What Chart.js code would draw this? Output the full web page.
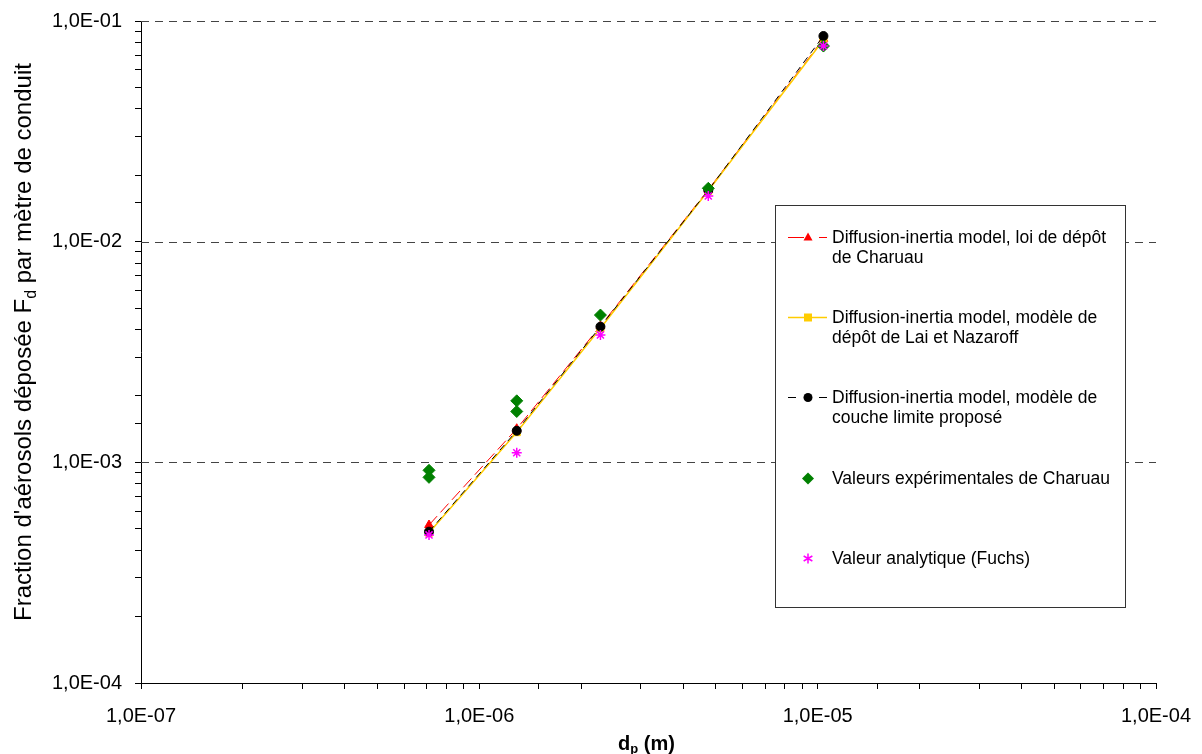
<!DOCTYPE html>
<html>
<head>
<meta charset="utf-8">
<script src="https://cdn.jsdelivr.net/npm/chart.js@4/dist/chart.umd.min.js"></script>
<style>
html,body{margin:0;padding:0;background:#fff;}
#wrap{position:relative;width:1202px;height:754px;}
</style>
</head>
<body>
<div id="wrap"><canvas id="c" width="1202" height="754"></canvas></div>
<script>
// ---- data ----
const dp = [7.1e-7, 1.29e-6, 2.28e-6, 4.75e-6, 1.04e-5];
const fdCharuauModel = [5.2e-4, 1.42e-3, 4.15e-3, 1.72e-2, 8.3e-2];
const fdLaiNazaroff = [4.8e-4, 1.37e-3, 4.05e-3, 1.70e-2, 8.2e-2];
const fdCoucheLimite = [4.85e-4, 1.39e-3, 4.12e-3, 1.71e-2, 8.55e-2];
const expDp = [7.1e-7, 7.1e-7, 1.29e-6, 1.29e-6, 2.28e-6, 4.75e-6, 1.04e-5];
const expFd = [9.2e-4, 8.55e-4, 1.90e-3, 1.70e-3, 4.65e-3, 1.745e-2, 7.7e-2];
const fuchsFd = [4.69e-4, 1.105e-3, 3.78e-3, 1.61e-2, 7.7e-2];
const yMajorTicks = [1e-4, 1e-3, 1e-2, 1e-1];
const xMajorTicks = [1e-7, 1e-6, 1e-5, 1e-4];
const seriesNames = [
  'Diffusion-inertia model, loi de dépôt de Charuau',
  'Diffusion-inertia model, modèle de dépôt de Lai et Nazaroff',
  'Diffusion-inertia model, modèle de couche limite proposé',
  'Valeurs expérimentales de Charuau',
  'Valeur analytique (Fuchs)'
];
const legendLines = [
  ['Diffusion-inertia model, loi de dépôt', 'de Charuau'],
  ['Diffusion-inertia model, modèle de', 'dépôt de Lai et Nazaroff'],
  ['Diffusion-inertia model, modèle de', 'couche limite proposé'],
  ['Valeurs expérimentales de Charuau'],
  ['Valeur analytique (Fuchs)']
];

const FONT = '"Liberation Sans", Arial, sans-serif';
const pts = (xs, ys) => xs.map((x, i) => ({x: x, y: ys[i]}));

function fmtExp(v) {
  const e = Math.log10(v);
  if (Math.abs(e - Math.round(e)) > 1e-6) return '';
  const n = Math.round(e);
  return '1,0E' + (n < 0 ? '-' : '+') + String(Math.abs(n)).padStart(2, '0');
}

const gridPlugin = {
  id: 'dashGrid',
  beforeDatasetsDraw(chart) {
    const {ctx, chartArea, scales} = chart;
    ctx.save();
    ctx.strokeStyle = '#444';
    ctx.lineWidth = 1;
    ctx.setLineDash([8, 6]);
    yMajorTicks.forEach(v => {
      if (v <= scales.y.min) return;
      const y = Math.round(scales.y.getPixelForValue(v)) + 0.5;
      ctx.beginPath();
      ctx.moveTo(chartArea.left, y);
      ctx.lineTo(chartArea.right, y);
      ctx.stroke();
    });
    ctx.restore();
  }
};

function drawMarker(ctx, kind, x, y, color) {
  ctx.save();
  ctx.fillStyle = color; ctx.strokeStyle = color; ctx.setLineDash([]);
  ctx.beginPath();
  if (kind === 'triangle') {
    ctx.moveTo(x, y - 5); ctx.lineTo(x + 4.5, y + 3); ctx.lineTo(x - 4.5, y + 3); ctx.closePath(); ctx.fill();
  } else if (kind === 'rect') {
    ctx.rect(x - 4, y - 4, 8, 8); ctx.fill();
  } else if (kind === 'circle') {
    ctx.arc(x, y, 4.5, 0, Math.PI * 2); ctx.fill();
  } else if (kind === 'rectRot') {
    ctx.moveTo(x, y - 6); ctx.lineTo(x + 6, y); ctx.lineTo(x, y + 6); ctx.lineTo(x - 6, y); ctx.closePath(); ctx.fill();
  } else if (kind === 'star') {
    ctx.lineWidth = 1.5;
    const r = 5;
    ctx.moveTo(x, y - r); ctx.lineTo(x, y + r);
    ctx.moveTo(x - r * 0.87, y - r * 0.5); ctx.lineTo(x + r * 0.87, y + r * 0.5);
    ctx.moveTo(x - r * 0.87, y + r * 0.5); ctx.lineTo(x + r * 0.87, y - r * 0.5);
    ctx.stroke();
  }
  ctx.restore();
}

const legendPlugin = {
  id: 'boxLegend',
  afterDraw(chart) {
    const ctx = chart.ctx;
    ctx.save();
    const bx = 775, by = 205, bw = 350, bh = 402;
    ctx.fillStyle = '#fff';
    ctx.fillRect(bx, by, bw, bh);
    ctx.strokeStyle = '#333';
    ctx.lineWidth = 1;
    ctx.strokeRect(bx + 0.5, by + 0.5, bw, bh);
    const rows = [237, 317, 397, 478, 558];
    const ds = chart.data.datasets;
    ctx.font = '17.5px ' + FONT;
    ctx.fillStyle = '#000';
    ctx.textBaseline = 'middle';
    ctx.textAlign = 'left';
    rows.forEach((ry, i) => {
      const d = ds[i];
      const y = ry + 0.5;
      ctx.strokeStyle = d.borderColor;
      ctx.lineWidth = d.borderWidth;
      if (d.showLine) {
        ctx.beginPath();
        if (i === 0) { ctx.moveTo(788, y); ctx.lineTo(804, y); ctx.moveTo(819, y); ctx.lineTo(827, y); }
        else if (i === 1) { ctx.moveTo(788, y); ctx.lineTo(827, y); }
        else { ctx.moveTo(788, y); ctx.lineTo(796, y); ctx.moveTo(819, y); ctx.lineTo(827, y); }
        ctx.stroke();
      }
      drawMarker(ctx, d.pointStyle, 808, y, i === 4 ? d.borderColor : d.pointBackgroundColor);
      ctx.fillStyle = '#000';
      legendLines[i].forEach((t, k) => ctx.fillText(t, 832, ry + 1 + k * 20));
    });
    ctx.restore();
  }
};

const titlePlugin = {
  id: 'axisTitles',
  afterDraw(chart) {
    const ctx = chart.ctx;
    const ca = chart.chartArea;
    ctx.save();
    ctx.fillStyle = '#000';
    ctx.textBaseline = 'alphabetic';
    ctx.textAlign = 'left';
    // Y title
    const big = '24px ' + FONT, small = '16px ' + FONT;
    const p1 = "Fraction d'aérosols déposée F", p2 = 'd', p3 = ' par mètre de conduit';
    ctx.font = big; const w1 = ctx.measureText(p1).width, w3 = ctx.measureText(p3).width;
    ctx.font = small; const w2 = ctx.measureText(p2).width;
    const tot = w1 + w2 + w3;
    ctx.translate(31, 342);
    ctx.rotate(-Math.PI / 2);
    let x0 = -tot / 2;
    ctx.font = big; ctx.fillText(p1, x0, 0);
    ctx.font = small; ctx.fillText(p2, x0 + w1, 5);
    ctx.font = big; ctx.fillText(p3, x0 + w1 + w2, 0);
    ctx.setTransform(1, 0, 0, 1, 0, 0);
    // X title
    const bb = 'bold 20px ' + FONT, bs = 'bold 13px ' + FONT;
    ctx.font = bb; const a1 = ctx.measureText('d').width, a3 = ctx.measureText(' (m)').width;
    ctx.font = bs; const a2 = ctx.measureText('p').width;
    const t2 = a1 + a2 + a3;
    let sx = (ca.left + ca.right) / 2 - 2 - t2 / 2;
    const by = 750;
    ctx.font = bb; ctx.fillText('d', sx, by);
    ctx.font = bs; ctx.fillText('p', sx + a1, by + 3);
    ctx.font = bb; ctx.fillText(' (m)', sx + a1 + a2, by);
    ctx.restore();
  }
};

new Chart(document.getElementById('c'), {
  type: 'scatter',
  data: {
    datasets: [
      {label: seriesNames[0], data: pts(dp, fdCharuauModel), showLine: true, borderColor: '#FF0000', borderWidth: 1, borderDash: [12, 5],
       pointStyle: 'triangle', pointRadius: 5, pointBackgroundColor: '#FF0000', pointBorderColor: '#FF0000', pointBorderWidth: 1, order: 4},
      {label: seriesNames[1], data: pts(dp, fdLaiNazaroff), showLine: true, borderColor: '#FFCC00', borderWidth: 1.5,
       pointStyle: 'rect', pointRadius: 5, pointBackgroundColor: '#FFCC00', pointBorderColor: '#FFCC00', pointBorderWidth: 1, order: 3},
      {label: seriesNames[2], data: pts(dp, fdCoucheLimite), showLine: true, borderColor: '#000000', borderWidth: 1, borderDash: [7, 5],
       pointStyle: 'circle', pointRadius: 4.5, pointBackgroundColor: '#000000', pointBorderColor: '#000000', pointBorderWidth: 1, order: 2},
      {label: seriesNames[3], data: pts(expDp, expFd), showLine: false, borderColor: '#008000',
       pointStyle: 'rectRot', pointRadius: 6, pointBackgroundColor: '#008000', pointBorderColor: '#008000', pointBorderWidth: 1, order: 1},
      {label: seriesNames[4], data: pts(dp, fuchsFd), showLine: false, borderColor: '#FF00FF', borderWidth: 1.5,
       pointStyle: 'star', pointRadius: 5, pointBackgroundColor: '#FF00FF', pointBorderColor: '#FF00FF', pointBorderWidth: 1.5, order: 0}
    ]
  },
  options: {
    responsive: false,
    animation: false,
    devicePixelRatio: 1,
    layout: {padding: {left: 0, right: 46, top: 21, bottom: 0}},
    plugins: {legend: {display: false}, tooltip: {enabled: false}},
    scales: {
      x: {
        type: 'logarithmic', position: 'bottom', min: 1e-7, max: 1e-4,
        afterFit: s => { s.height = 71; s.paddingLeft = 0; s.paddingRight = 0; },
        border: {display: true, color: '#000', width: 1},
        grid: {drawOnChartArea: false, drawTicks: true, tickLength: 6, color: '#000', tickColor: '#000'},
        ticks: {autoSkip: false, maxRotation: 0, minRotation: 0, padding: 15, color: '#000', font: {family: FONT, size: 20}, callback: v => fmtExp(v)},
        title: {display: false}
      },
      y: {
        type: 'logarithmic', position: 'left', min: 1e-4, max: 1e-1,
        afterFit: s => { s.width = 141; s.paddingTop = 0; s.paddingBottom = 0; },
        border: {display: true, color: '#000', width: 1},
        grid: {drawOnChartArea: false, drawTicks: true, tickLength: 6, color: '#000', tickColor: '#000'},
        ticks: {autoSkip: false, padding: 13, color: '#000', font: {family: FONT, size: 20}, callback: v => fmtExp(v)},
        title: {display: false}
      }
    }
  },
  plugins: [gridPlugin, legendPlugin, titlePlugin]
});
</script>
</body>
</html>
